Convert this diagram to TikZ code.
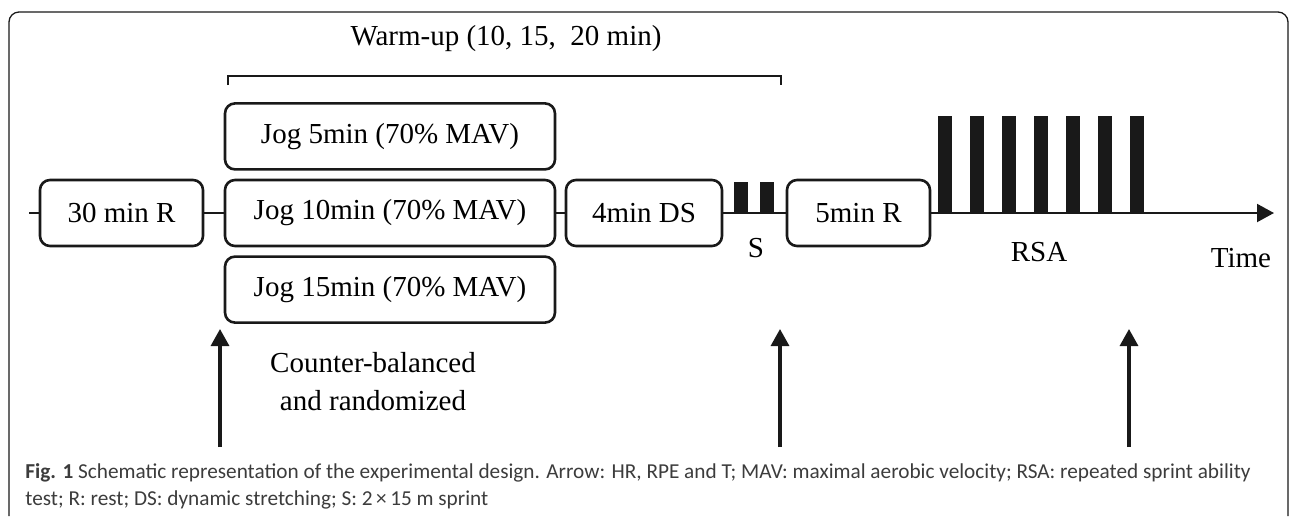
\documentclass[tikz,border=0pt]{standalone}
\usepackage{fontspec}
\setmainfont{Liberation Serif}
\newfontfamily\capfont{Carlito}
\usepackage{xcolor}
\definecolor{inkgray}{RGB}{25,25,25}
\definecolor{capgray}{RGB}{60,60,60}
\usetikzlibrary{arrows.meta,positioning,calc}

\begin{document}
\begin{tikzpicture}[x=0.5pt,y=-0.5pt]
		\tikzstyle{phase}=[rectangle,draw=inkgray,line width=1.3pt,rounded corners=5pt,
		minimum height=33pt,inner sep=0pt,align=center,font=\fontsize{14.5}{17}\selectfont]
		\tikzstyle{lbl}=[inner sep=0pt,font=\fontsize{14.5}{19}\selectfont]
		\tikzstyle{axis}=[line width=1pt,inkgray]
		\tikzstyle{bar}=[fill=inkgray,draw=none]
		\tikzstyle{probe}=[line width=1.6pt,inkgray,-{Triangle[width=9pt,length=8.5pt]}]
		\useasboundingbox (0,0) rectangle (1292,516);
		% outer frame
		\draw[line width=0.65pt,inkgray,rounded corners=5pt] (9,516) -- (9,12) -- (1288,12) -- (1288,516);
		% warm-up bracket
		\node[lbl] (warm) at (506,39) {Warm-up (10, 15,~ 20 min)};
		\draw[line width=0.6pt,inkgray] (228,85) -- (228,76) -- (781,76) -- (781,85);
		% phases on the time line
		\node[phase,minimum width=81.5pt] (rest30) at (121.5,213) {30 min R};
		\node[phase,minimum width=165pt] (jog10) at (390,213) {Jog 10min (70\% MAV)};
		\node[phase,minimum width=165pt,above=4pt of jog10] (jog5) {Jog 5min (70\% MAV)};
		\node[phase,minimum width=165pt,below=4pt of jog10] (jog15) {Jog 15min (70\% MAV)};
		\node[phase,minimum width=78pt] (ds) at (644,213) {4min DS};
		\node[phase,minimum width=71.5pt] (rest5) at (858.5,213) {5min R};
		\coordinate (t0) at (29,213);
		\coordinate (tend) at (1274,213);
		\draw[axis] (t0) -- (rest30);
		\draw[axis] (rest30) -- (jog10);
		\draw[axis] (jog10) -- (ds);
		\draw[axis] (ds) -- (rest5);
		\draw[axis,-{Triangle[width=9pt,length=8.5pt]}] (rest5) -- (tend);
		% sprints
		\foreach \x in {734,760}
			\fill[bar] (\x,213) rectangle ++(13.5,-31);
		\foreach \i in {0,...,6}
			\fill[bar] ({938+32*\i},213) rectangle ++(13.5,-97);
		\node[lbl] (slbl) at (756,248) {S};
		\node[lbl] (rsalbl) at (1039,252) {RSA};
		\node[lbl] (timelbl) at (1241,258) {Time};
		% measurement points
		\foreach \x [count=\k] in {220,780,1129} {
			\coordinate (foot\k) at (\x,447);
			\coordinate (tip\k) at (\x,329);
			\draw[probe] (foot\k) -- (tip\k);
		}
		\node[lbl,align=center] (order) at (373,382) {Counter-balanced\\and randomized};
		% caption
		\node[anchor=west,inner sep=0pt,align=left,text=capgray,
		font=\capfont\fontsize{10.63}{13.5}\selectfont] (cap) at (25,486.5)
		{\textbf{Fig. 1} Schematic representation of the experimental design. Arrow: HR, RPE and T; MAV: maximal aerobic velocity; RSA: repeated sprint ability\\
		test; R: rest; DS: dynamic stretching; S: 2\,×\,15 m sprint};
	\end{tikzpicture}
\end{document}
